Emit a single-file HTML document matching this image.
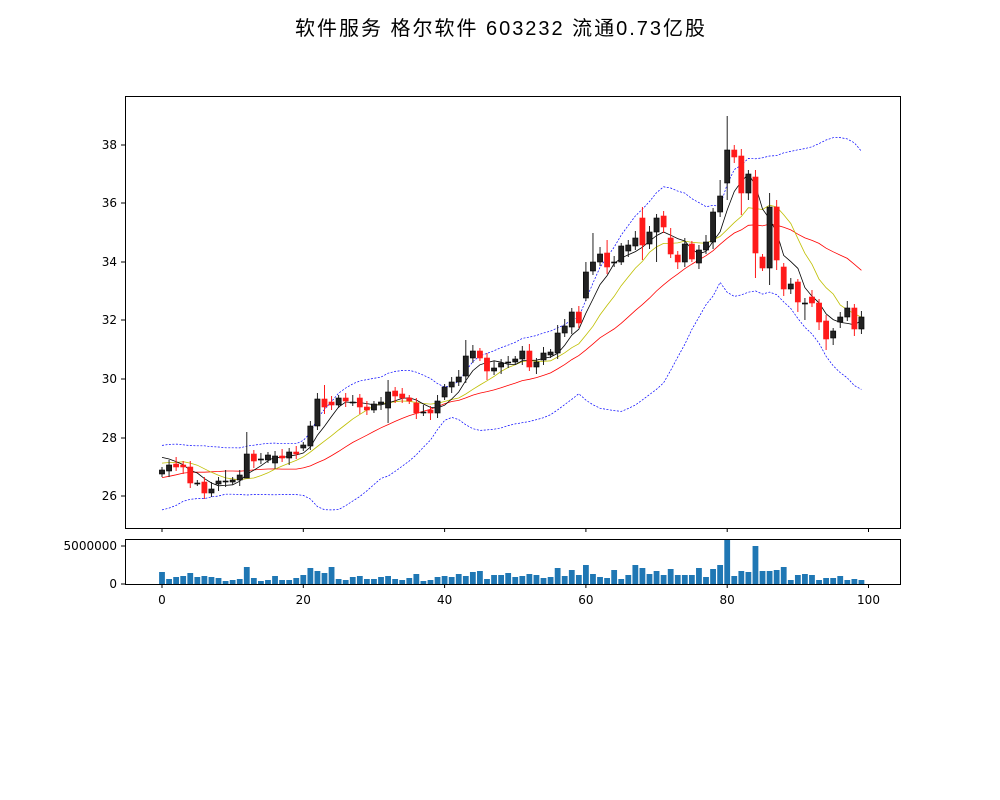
<!DOCTYPE html>
<html><head><meta charset="utf-8"><style>
body{margin:0;background:#fff;}
svg{display:block;font-family:"DejaVu Sans","Liberation Sans",sans-serif;}
</style></head><body>
<svg id="s" width="1000" height="800" xmlns="http://www.w3.org/2000/svg">
<rect width="1000" height="800" fill="#fff"/>
<text x="295" y="35" font-size="20" textLength="410" lengthAdjust="spacing" font-family="'WenQuanYi Zen Hei',sans-serif">软件服务 格尔软件 603232 流通0.73亿股</text>
<g id="g"></g>
</svg>
<script>
const B=[[470,474,'K'],[465,471,'K'],[464,467,'R'],[465,467,'R'],[467,483,'R'],[483,483,'K'],[482,493,'R'],[489,493,'K'],[481,484,'K'],[481,482,'K'],
[480,482,'K'],[475,480,'K'],[454,478,'K'],[454,461,'R'],[459,459,'K'],[455,460,'K'],[456,463,'K'],[456,458,'R'],[452,458,'K'],[452,454,'R'],
[445,448,'K'],[426,446,'K'],[399,426,'K'],[399,407,'R'],[402,405,'R'],[398,405,'K'],[398,401,'R'],[402,402,'K'],[398,407,'R'],[407,410,'R'],
[404,410,'K'],[402,404,'K'],[392,408,'K'],[391,396,'R'],[394,398,'R'],[398,401,'R'],[403,413,'R'],[412,412,'K'],[410,413,'R'],[401,413,'K'],
[387,397,'K'],[382,387,'K'],[377,382,'K'],[356,376,'K'],[351,358,'K'],[351,358,'R'],[358,371,'R'],[368,371,'K'],[363,367,'K'],[362,363,'K'],
[359,362,'K'],[351,359,'K'],[351,367,'R'],[362,367,'K'],[353,360,'K'],[352,355,'K'],[333,353,'K'],[326,333,'K'],[312,327,'K'],[312,323,'R'],
[272,298,'K'],[262,271,'K'],[254,262,'K'],[253,267,'R'],[262,262,'K'],[246,262,'K'],[245,251,'K'],[238,246,'K'],[218,245,'R'],[232,244,'K'],
[218,232,'K'],[216,227,'R'],[238,254,'R'],[255,262,'R'],[244,262,'K'],[244,259,'R'],[250,263,'K'],[242,250,'K'],[212,242,'K'],[196,212,'K'],
[150,183,'K'],[150,157,'R'],[156,193,'R'],[174,193,'K'],[177,253,'R'],[257,268,'R'],[207,268,'K'],[207,260,'R'],[267,289,'R'],[284,289,'K'],
[282,302,'R'],[303,303,'K'],[297,303,'R'],[303,322,'R'],[321,339,'R'],[331,338,'K'],[317,322,'K'],[308,317,'K'],[308,329,'R'],[317,329,'K']];
const V=[12,5,7,8,11,7,8,7,6,3,4,5,17,6,3,4,8,4,4,6,9,16,13,11,17,5,4,7,8,5,5,7,8,5,4,6,10,3,4,7,8,7,10,8,12,13,5,9,9,11,7,8,10,9,6,7,16,8,14,9,19,10,7,6,14,5,9,19,16,10,13,9,15,9,9,9,16,7,15,19,44,8,13,12,38,13,13,14,17,4,9,10,9,4,6,6,8,4,5,4];
const WH={12:432,32:380,22:393,80:116,68:207,70:214,61:233,43:340,56:325,60:262,84:170,86:193,63:240,72:228,79:180,9:470,23:385};
const WL={12:478,32:423,84:278,86:285,87:270,70:262,61:275,68:260,80:200,94:350,95:345,93:330,98:336,46:380,21:450,82:215,90:312,91:320};
const X=i=>162+7.065*i;
let s='';
const C=B.map(b=>b[2]=='K'?b[0]:b[1]);
const pad=[493,497,501,495,488,493,497,487,491,480,471,467,475,469,462,457,454,452,454];
const A=pad.concat(C);
function ma(n,i){let t=0;for(let k=0;k<n;k++)t+=A[i+19-k];return t/n;}
function sd(i){const m=ma(20,i);let t=0;for(let k=0;k<20;k++){const d=A[i+19-k]-m;t+=d*d;}return Math.sqrt(t/20);}
const P=f=>C.map((_,i)=>X(i).toFixed(1)+','+f(i).toFixed(1)).join(' ');
s+=`<polyline points="${P(i=>ma(20,i)+2*sd(i))}" fill="none" stroke="#0000ff" stroke-width="0.7" stroke-dasharray="2,1.5"/>`;
s+=`<polyline points="${P(i=>ma(20,i)-2*sd(i))}" fill="none" stroke="#0000ff" stroke-width="0.7" stroke-dasharray="2,1.5"/>`;
s+=`<polyline points="${P(i=>ma(20,i))}" fill="none" stroke="#ff0000" stroke-width="0.8"/>`;
s+=`<polyline points="${P(i=>ma(10,i))}" fill="none" stroke="#bfbf00" stroke-width="0.8"/>`;
s+=`<polyline points="${P(i=>ma(5,i))}" fill="none" stroke="#000" stroke-width="0.8"/>`;
B.forEach((b,i)=>{const x=X(i);const col=b[2]=='K'?'#222':'#ff1a1a';
const hi=WH[i]!==undefined?WH[i]:b[0]-3-(i*7%5);const lo=WL[i]!==undefined?WL[i]:b[1]+3+(i*3%5);
s+=`<line x1="${x}" x2="${x}" y1="${hi}" y2="${lo}" stroke="${col}" stroke-width="1"/>`;
s+=`<rect x="${x-2.6}" y="${b[0]}" width="5.2" height="${Math.max(b[1]-b[0],1)}" fill="${col}" stroke="${b[2]=='K'?'#000':'#ff1a1a'}" stroke-width="0.6"/>`;});
V.forEach((v,i)=>{s+=`<rect x="${X(i)-2.9}" y="${584-v}" width="5.8" height="${v}" fill="#1f77b4"/>`;});
s+=`<rect x="125.5" y="96.5" width="775" height="432" fill="none" stroke="#000" stroke-width="1"/>`;
s+=`<rect x="125.5" y="539.5" width="775" height="45" fill="none" stroke="#000" stroke-width="1"/>`;
[[38,145],[36,203],[34,262],[32,320],[30,379],[28,438],[26,496]].forEach(t=>{s+=`<line x1="121" x2="125" y1="${t[1]}" y2="${t[1]}" stroke="#000"/><text x="117" y="${t[1]+4}" font-size="12" text-anchor="end">${t[0]}</text>`;});
[["5000000",546],["0",584]].forEach(t=>{s+=`<line x1="121" x2="125" y1="${t[1]}" y2="${t[1]}" stroke="#000"/><text x="117" y="${t[1]+4}" font-size="12" text-anchor="end">${t[0]}</text>`;});
[0,20,40,60,80,100].forEach(v=>{const x=X(v);s+=`<line x1="${x}" x2="${x}" y1="529" y2="532" stroke="#000"/><line x1="${x}" x2="${x}" y1="585" y2="588" stroke="#000"/><text x="${x}" y="604" font-size="12" text-anchor="middle">${v}</text>`;});
document.getElementById('g').innerHTML=s;
</script>
</body></html>
